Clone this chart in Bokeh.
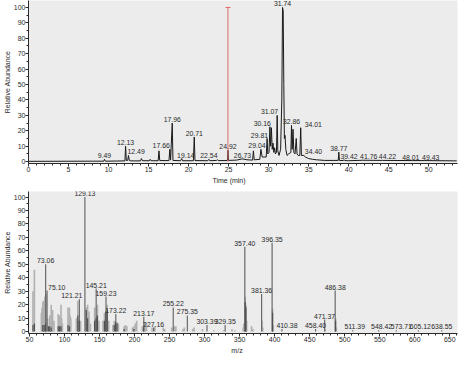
from bokeh.plotting import figure
from bokeh.layouts import column
from bokeh.models import ColumnDataSource, Range1d, FixedTicker, Div
from bokeh.core.properties import value
from bokeh.embed import file_html
from bokeh.resources import INLINE

# ---------------- Chromatogram (top) ----------------
tic_time = [0, 8, 9.4, 9.49, 9.6, 11.0, 12.05, 12.13, 12.22, 12.4, 12.49, 12.6, 12.8,
            14.0, 14.1, 14.25, 15.1, 15.2, 15.3, 16.2, 16.3, 16.4, 17.55, 17.66, 17.75,
            17.96, 18.05, 19.0, 19.14, 19.25, 20.6, 20.71, 20.8, 22.4, 22.54, 22.65,
            23.5, 23.6, 23.7, 24.85, 24.92, 25.0, 26.0, 26.73, 27.3, 28.0, 28.1, 28.2,
            28.9, 29.04, 29.2, 29.7, 29.81, 29.9, 30.05, 30.16, 30.25, 30.35, 30.45,
            30.55, 30.65, 30.75, 30.85, 30.98, 31.07, 31.15, 31.3, 31.5, 31.65, 31.74,
            31.82, 31.9, 31.97, 32.05, 32.15, 32.3, 32.5, 32.78, 32.86, 32.94, 33.05,
            33.15, 33.3, 33.45, 33.55, 33.7, 33.9, 34.01, 34.1, 34.4, 34.6, 35.0, 35.5,
            36.0, 37.0, 38.7, 38.77, 38.85, 39.3, 39.42, 39.55, 40.0, 41.76, 44.22,
            48.01, 49.43, 53.5]
tic_abund = [0.2, 0.3, 0.3, 1.5, 0.3, 0.4, 0.5, 10, 0.8, 0.8, 4, 0.8, 0.5,
             0.5, 2, 0.6, 0.6, 1.5, 0.6, 0.6, 7, 0.7, 0.7, 8, 1.0,
             25, 0.8, 0.6, 2, 0.6, 0.6, 16, 0.7, 0.6, 1.5, 0.6,
             0.8, 1.2, 0.7, 0.7, 7.5, 0.8, 1.0, 1.8, 1.2, 1.0, 7, 1.2,
             1.5, 8, 3, 3, 15, 5, 6, 22.6, 10, 22, 8,
             12, 6, 9, 5, 6, 30, 7, 4, 8, 40, 100,
             98, 50, 15, 17, 8, 4, 5, 6, 23.5, 8, 21,
             6, 5, 15, 5, 4, 4, 22, 4, 4, 3, 2, 1.5,
             1.2, 0.8, 0.8, 6.2, 0.8, 0.7, 1.2, 0.7, 0.6, 0.9, 0.8,
             0.7, 0.7, 0.5]

tic_peak_time = [9.49, 12.13, 12.49, 17.66, 17.96, 19.14, 20.71, 22.54, 24.92, 26.73,
                 29.04, 29.81, 30.16, 31.07, 31.74, 32.86, 34.01, 34.40, 38.77, 39.42,
                 41.76, 44.22, 48.01, 49.43]
tic_peak_abund = [1.5, 10, 4, 8, 25, 2, 16, 1.5, 7.5, 1.8,
                  8, 15, 22.6, 30, 100, 23.5, 22, 4, 6.2, 1.2,
                  0.9, 0.8, 0.7, 0.7]
tic_peak_text = ["9.49", "12.13", "12.49", "17.66", "17.96", "19.14", "20.71", "22.54",
                 "24.92", "26.73", "29.04", "29.81", "30.16", "31.07", "31.74", "32.86",
                 "34.01", "34.40", "38.77", "39.42", "41.76", "44.22", "48.01", "49.43"]
cursor_time = 24.92
cursor_top = 100

time_ticks = [0, 5, 10, 15, 20, 25, 30, 35, 40, 45, 50]
abund_ticks = [0, 10, 20, 30, 40, 50, 60, 70, 80, 90, 100]

# ---------------- Mass spectrum (bottom) ----------------
ms_main_mz = [73.06, 75.10, 121.21, 129.13, 145.21, 159.23, 173.22, 213.17, 227.16,
              255.22, 275.35, 303.39, 329.35, 357.40, 381.36, 396.35, 410.38, 458.40,
              471.37, 486.38, 511.39, 548.42, 573.71, 605.12, 638.55]
ms_main_int = [50, 30.5, 24, 100, 32, 26, 13, 11, 3,
               18, 12, 5, 5, 63, 28, 66, 2, 2,
               9, 30.5, 1, 1, 1, 1, 1]
ms_main_text = ["73.06", "75.10", "121.21", "129.13", "145.21", "159.23", "173.22",
                "213.17", "227.16", "255.22", "275.35", "303.39", "329.35", "357.40",
                "381.36", "396.35", "410.38", "458.40", "471.37", "486.38", "511.39",
                "548.42", "573.71", "605.12", "638.55"]

ms_light_mz = [55, 57, 67, 68, 69, 70, 71, 72, 74, 76, 79, 81, 82, 83, 85, 91, 93, 95,
               96, 97, 105, 107, 108, 109, 117, 119, 120, 123, 131, 133, 134, 135, 137,
               143, 146, 147, 149, 155, 157, 160, 161, 163, 169, 171, 175, 177, 185,
               187, 189, 197, 199, 201, 203, 211, 215, 217, 225, 229, 241, 243, 253,
               257, 259, 269, 271, 283, 285, 297, 313, 327, 339, 343, 355, 356, 358,
               359, 360, 367, 369, 382, 383, 397, 398, 472, 487, 488]
ms_light_int = [30, 46, 14, 18, 22, 23, 22, 26, 28, 10, 12, 20, 10, 16, 8, 13, 12, 20,
                10, 6, 18, 18, 12, 10, 10, 23, 8, 8, 18, 20, 12, 15, 6,
                18, 12, 20, 8, 8, 14, 12, 20, 8, 5, 8, 7, 6, 4,
                5, 4, 3, 4, 6, 8, 4, 7, 6, 3, 4, 3, 2, 3,
                4, 4, 2, 3, 2, 3, 2, 1, 1, 2, 1, 3, 6, 26,
                20, 8, 4, 2, 8, 3, 17, 5, 2, 10, 3]

ms_dark_mz = [55, 57, 69, 71, 73, 77, 79, 81, 91, 93, 95, 105, 107, 119, 121, 131, 133,
              143, 145, 147, 157, 159, 161, 171, 173, 175, 185, 199, 213, 358, 359, 397, 487]
ms_dark_int = [5, 6, 5, 5, 6, 4, 4, 3, 4, 4, 4, 5, 4, 12, 8, 16, 10,
               8, 10, 12, 8, 15, 16, 5, 7, 6, 2, 2, 3, 22, 18, 14, 8]

mz_ticks = [50, 100, 150, 200, 250, 300, 350, 400, 450, 500, 550, 600, 650]

FONT = "Liberation Sans"
BG = "#ececec"
INK = "#2a2a2a"

# label placement styles (alignment, pixel nudge)
top_label_style = {"12.49": ("left", -1), "17.66": ("right", 0), "29.04": ("center", -4),
                   "29.81": ("right", 1), "30.16": ("right", 1), "31.07": ("right", 1),
                   "34.01": ("left", 4), "34.40": ("left", 1), "19.14": ("center", 4),
                   "39.42": ("center", 5), "41.76": ("center", 6), "44.22": ("center", 5),
                   "48.01": ("center", -2), "49.43": ("left", -2)}
bot_label_style = {"75.10": ("left", 1), "121.21": ("right", 3), "410.38": ("center", 5),
                   "511.39": ("center", 2), "548.42": ("center", 3),
                   "573.71": ("center", 5), "605.12": ("center", 2)}


def label_cols(texts, styles):
    aligns = [styles.get(t, ("center", 0))[0] for t in texts]
    nudges = [styles.get(t, ("center", 0))[1] for t in texts]
    return aligns, nudges


def style_axes(p, xticks, xminor, ylabel):
    p.grid.visible = False
    p.outline_line_color = None
    p.xaxis.ticker = FixedTicker(ticks=xticks, minor_ticks=xminor)
    p.yaxis.ticker = FixedTicker(ticks=abund_ticks, minor_ticks=list(range(0, 101, 5)))
    for ax in (p.xaxis, p.yaxis):
        ax.axis_line_color = INK
        ax.axis_line_width = 1
        ax.major_tick_line_color = INK
        ax.minor_tick_line_color = INK
        ax.major_tick_out = 3
        ax.major_tick_in = 0
        ax.minor_tick_out = 2
        ax.minor_tick_in = 0
        ax.major_label_text_font = FONT
        ax.major_label_text_font_size = "7px"
        ax.major_label_text_color = INK
        ax.major_label_standoff = 0
        ax.axis_label_text_font = FONT
        ax.axis_label_text_font_size = "7px"
        ax.axis_label_text_font_style = "normal"
        ax.axis_label_text_color = INK
        ax.axis_label_standoff = 0
    p.yaxis.axis_label = ylabel


def x_title(text, pad_left):
    return Div(text=text, width=W, height=8, margin=0,
               styles={"font-family": FONT, "font-size": "7px", "line-height": "8px",
                       "color": INK, "text-align": "center",
                       "padding-left": f"{pad_left}px", "box-sizing": "border-box",
                       "overflow": "visible", "white-space": "nowrap"})


W = 458

# ---- top figure ----
p1 = figure(width=W, height=177, output_backend="svg", toolbar_location=None,
            x_range=Range1d(0, 53.6), y_range=Range1d(-1.2, 104.5),
            min_border_left=24, min_border_right=1, min_border_top=0, min_border_bottom=14,
            background_fill_color=BG, border_fill_color="white")
style_axes(p1, time_ticks, list(range(0, 54)), "Relative Abundance")

p1.line(tic_time, tic_abund, line_color="#1a1a1a", line_width=1)
p1.segment(x0=[cursor_time], y0=[0], x1=[cursor_time], y1=[cursor_top],
           line_color="#e06a6a", line_width=1)
p1.scatter([cursor_time], [cursor_top], marker="dash", size=5, line_color="#e06a6a")

ta, tn = label_cols(tic_peak_text, top_label_style)
top_src = ColumnDataSource(dict(x=tic_peak_time, y=tic_peak_abund, t=tic_peak_text,
                                a=ta, dx=tn))
p1.text(x="x", y="y", text="t", source=top_src, text_align="a", x_offset="dx",
        text_baseline="bottom", y_offset=-1, text_font=value(FONT),
        text_font_size="6.9px", text_color=INK)

# ---- bottom figure ----
p2 = figure(width=W, height=162, output_backend="svg", toolbar_location=None,
            x_range=Range1d(48.6, 661), y_range=Range1d(-1.4, 104.1),
            min_border_left=24, min_border_right=1, min_border_top=6, min_border_bottom=14,
            background_fill_color=BG, border_fill_color="white")
style_axes(p2, mz_ticks, list(range(50, 661, 10)), "Relative Abundance")

zero_l = [0] * len(ms_light_mz)
p2.segment(x0=ms_light_mz, y0=zero_l, x1=ms_light_mz, y1=ms_light_int,
           line_color="#b0b0b0", line_width=1.6)
zero_m = [0] * len(ms_main_mz)
p2.segment(x0=ms_main_mz, y0=zero_m, x1=ms_main_mz, y1=ms_main_int,
           line_color="#6a6a6a", line_width=1.2)
zero_d = [0] * len(ms_dark_mz)
p2.segment(x0=ms_dark_mz, y0=zero_d, x1=ms_dark_mz, y1=ms_dark_int,
           line_color="#505050", line_width=1.2)

ba, bn = label_cols(ms_main_text, bot_label_style)
bot_src = ColumnDataSource(dict(x=ms_main_mz, y=ms_main_int, t=ms_main_text,
                                a=ba, dx=bn))
p2.text(x="x", y="y", text="t", source=bot_src, text_align="a", x_offset="dx",
        text_baseline="bottom", y_offset=-1, text_font=value(FONT),
        text_font_size="6.9px", text_color=INK)

layout = column(p1, x_title("Time (min)", 0), p2, x_title("m/z", 16), spacing=0)
open("out.html", "w").write(file_html(layout, INLINE))
